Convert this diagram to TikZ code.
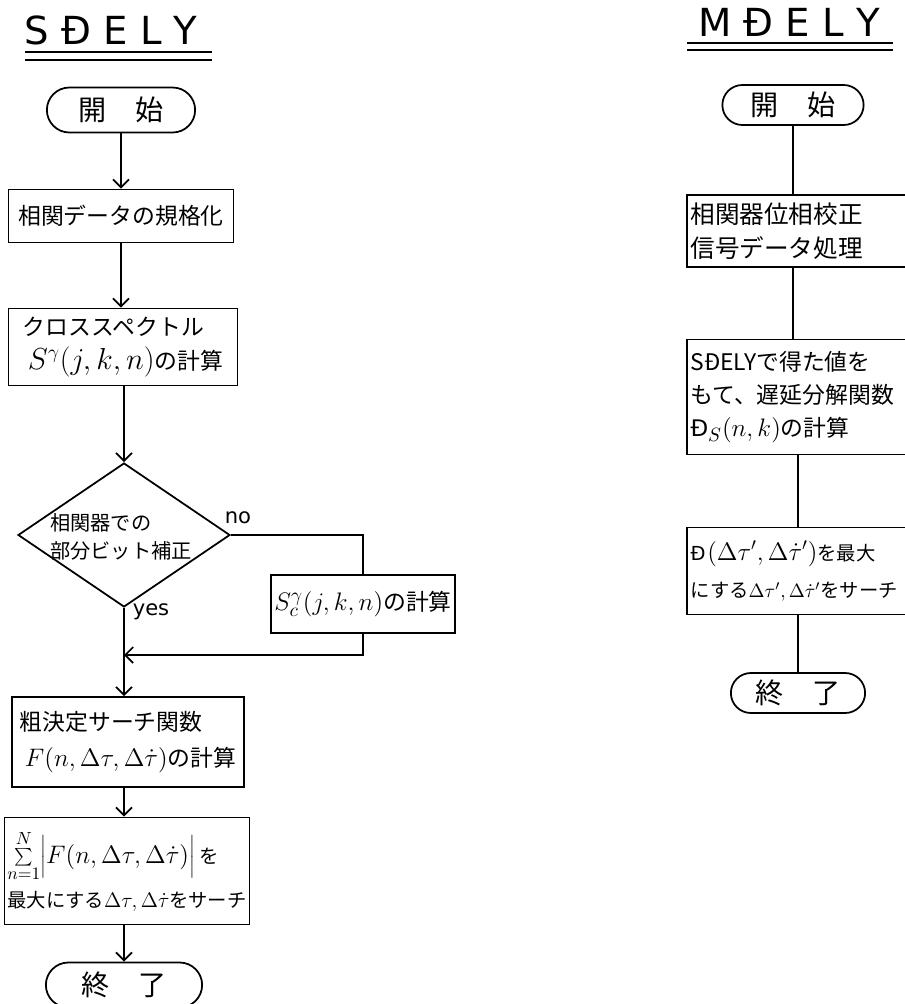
\documentclass[tikz,border=0pt]{standalone}
\usepackage{fontspec}
\setmainfont{Noto Sans CJK JP}
\newfontfamily\latinfont{DejaVu Sans}
\usetikzlibrary{shapes.geometric}
\usetikzlibrary{shapes.misc}
\usetikzlibrary{arrows.meta}
\tikzset{>={Straight Barb[scale=1.3]}}
\tikzset{
  flow/.style={line width=1pt},
  box/.style={draw, rectangle, line width=1pt, align=left, inner sep=2pt},
  rbox/.style={box, text width=4.86cm, font=\fontsize{13}{19}\selectfont},
  term/.style={draw, rounded rectangle, line width=1pt, font=\fontsize{16}{18}\selectfont},
  decide/.style={draw, diamond, line width=1pt, inner sep=0pt},
  heading/.style={font=\latinfont\fontsize{22}{24}\selectfont},
  answer/.style={font=\latinfont\fontsize{12}{14}\selectfont, inner sep=1pt},
}
\newcommand{\Dbar}{{\latinfont Đ}}
\newcommand{\mbig}[2][16]{{\fontsize{#1}{#1}\selectfont$#2$}}

\begin{document}
\begin{tikzpicture}[x=0.02cm, y=-0.02cm]
  \useasboundingbox (0,0) rectangle (905,1004);

  % 見出し
  \node[heading] (ttlS) at (111,30) {S Đ E L Y};
  \node[heading] (ttlM) at (789,22) {M Đ E L Y};
  \draw[flow] (25,52) -- (212,52);
  \draw[flow] (25,60) -- (212,60);
  \draw[flow] (687,43) -- (893,43);
  \draw[flow] (687,50) -- (893,50);

  % SDELY
  \node[term, minimum width=3.2cm, minimum height=0.9cm] (startS) at (121,110) {開　始};
  \node[box, minimum width=4.5cm, minimum height=1.06cm, font=\fontsize{13}{16}\selectfont] (norm) at (121,216) {相関データの規格化};
  \node[box, minimum width=4.58cm, minimum height=1.54cm, font=\fontsize{13}{19}\selectfont] (cross) at (123,347)
    {クロススペクトル\\\ \mbig{S^{\gamma}(j,k,n)}の計算};
  \node[decide, minimum width=4.24cm, minimum height=2.88cm] (bitq) at (124,535) {};
  \node[align=left, font=\fontsize{11.5}{16}\selectfont] (bitqtxt) at (121,537) {相関器での\\部分ビット補正};
  \node[box, minimum width=3.66cm, minimum height=1.16cm, font=\fontsize{13}{16}\selectfont] (corr) at (363,604)
    {\mbig[15]{S_c^{\gamma}(j,k,n)}の計算};
  \node[answer] (no) at (238,518) {no};
  \node[answer] (yes) at (151,612) {yes};
  \coordinate (mrg) at (124,655);
  \node[box, minimum width=4.64cm, minimum height=1.8cm, font=\fontsize{13}{20}\selectfont] (rough) at (128,742)
    {粗決定サーチ関数\\\ \mbig[14]{F(n,\Delta\tau,\Delta\dot{\tau})}の計算};
  \node[box, minimum width=4.9cm, minimum height=2.14cm, inner sep=1pt, font=\fontsize{11}{25}\selectfont] (maxS) at (127,871)
    {\mbig[14]{\sum\limits_{n=1}^{N}\biggl|F(n,\Delta\tau,\Delta\dot{\tau})\biggr|} を\\最大にする\mbig[12]{\Delta\tau,\Delta\dot{\tau}}をサーチ};
  \node[term, minimum width=3.36cm, minimum height=0.9cm] (endS) at (124,985) {終　了};

  \draw[flow,->] (startS.south) -- (startS.south |- norm.north);
  \draw[flow,->] (norm.south) -- (norm.south |- cross.north);
  \draw[flow,->] (cross.south -| bitq) -- (bitq.north);
  \draw[flow] (bitq.east) -| (corr.north);
  \draw[flow,->] (corr.south) |- (mrg);
  \draw[flow,->] (bitq.south) -- (bitq.south |- rough.north);
  \draw[flow,->] (rough.south -| bitq) -- (bitq |- maxS.north);
  \draw[flow,->] (maxS.south -| bitq) -- (endS.north);

  % MDELY
  \node[term, minimum width=3.06cm, minimum height=0.8cm] (startM) at (793,105) {開　始};
  \node[rbox, minimum height=1.44cm, font=\fontsize{14}{19}\selectfont] (phase) at (812,231) {相関器位相校正\\信号データ処理};
  \node[rbox, minimum height=2.3cm] (delay) at (812,397)
    {SĐELYで得た値を\\もて、遅延分解関数\\\Dbar\mbig[15]{{}_S(n,k)}の計算};
  \node[rbox, minimum height=1.74cm, font=\fontsize{11}{21}\selectfont] (maxM) at (812,571)
    {\Dbar\kern1pt\mbig[14]{(\Delta\tau',\Delta\dot{\tau}')}を最大\\にする\mbig[11]{\Delta\tau',\Delta\dot{\tau}'}をサーチ};
  \node[term, minimum width=2.92cm, minimum height=0.8cm] (endM) at (798,693) {終　了};

  \draw[flow] (startM.south) -- (startM.south |- phase.north);
  \draw[flow] (startM |- phase.south) -- (startM |- delay.north);
  \draw[flow] (endM |- delay.south) -- (endM |- maxM.north);
  \draw[flow] (endM |- maxM.south) -- (endM.north);
\end{tikzpicture}
\end{document}
